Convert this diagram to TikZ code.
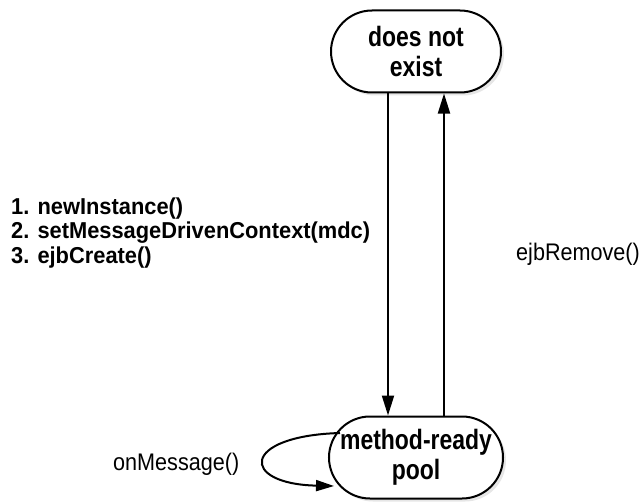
\documentclass[tikz,border=0pt]{standalone}
\usepackage{fontspec}
\setmainfont{Liberation Sans}
\newfontfamily\condb[FakeStretch=0.95]{Liberation Sans Bold}
\newfontfamily\condn[FakeStretch=0.82]{Liberation Sans Bold}
\newfontfamily\condr[FakeStretch=0.9]{Liberation Sans}
\usetikzlibrary{arrows.meta,shapes.misc,shadows}
\begin{document}
\begin{tikzpicture}[x=1pt,y=-1pt,
  state/.style={rounded rectangle, draw, line width=2pt, minimum width=170pt, minimum height=82pt,
    align=center, inner sep=0pt, font=\condn\fontsize{28}{30}\selectfont, fill=white,
    drop shadow={shadow xshift=3pt, shadow yshift=-3pt, opacity=0.2}},
  conn/.style={line width=2pt, -{Triangle[length=20pt,width=12pt]}},
  lbl/.style={inner sep=0pt, anchor=west}
]
\useasboundingbox (0,0) rectangle (643,503);
\node[state] (dne) at (416,51.5) {does not\\exist};
\node[state] (mrp) at (416,457.5) {method-ready\\pool};
\draw[conn] (dne.south -| 388,0) -- (mrp.north -| 388,0);
\draw[conn] (mrp.north -| 444,0) -- (dne.south -| 444,0);
\coordinate (ls) at (340,433);
\coordinate (le) at (334,486);
\draw[line width=2pt, -{Triangle[length=18pt,width=11pt]}] (ls) .. controls (240,436) and (240,484) .. (le);
\node[lbl, align=left, font=\condb\fontsize{23}{24.75}\selectfont] (steps) at (11,233) {1. newInstance()\\2. setMessageDrivenContext(mdc)\\3. ejbCreate()};
\node[lbl, font=\condr\fontsize{24}{24}\selectfont] (rem) at (516,254) {ejbRemove()};
\node[lbl, font=\condr\fontsize{24}{24}\selectfont] (onm) at (113,464) {onMessage()};
\end{tikzpicture}
\end{document}
